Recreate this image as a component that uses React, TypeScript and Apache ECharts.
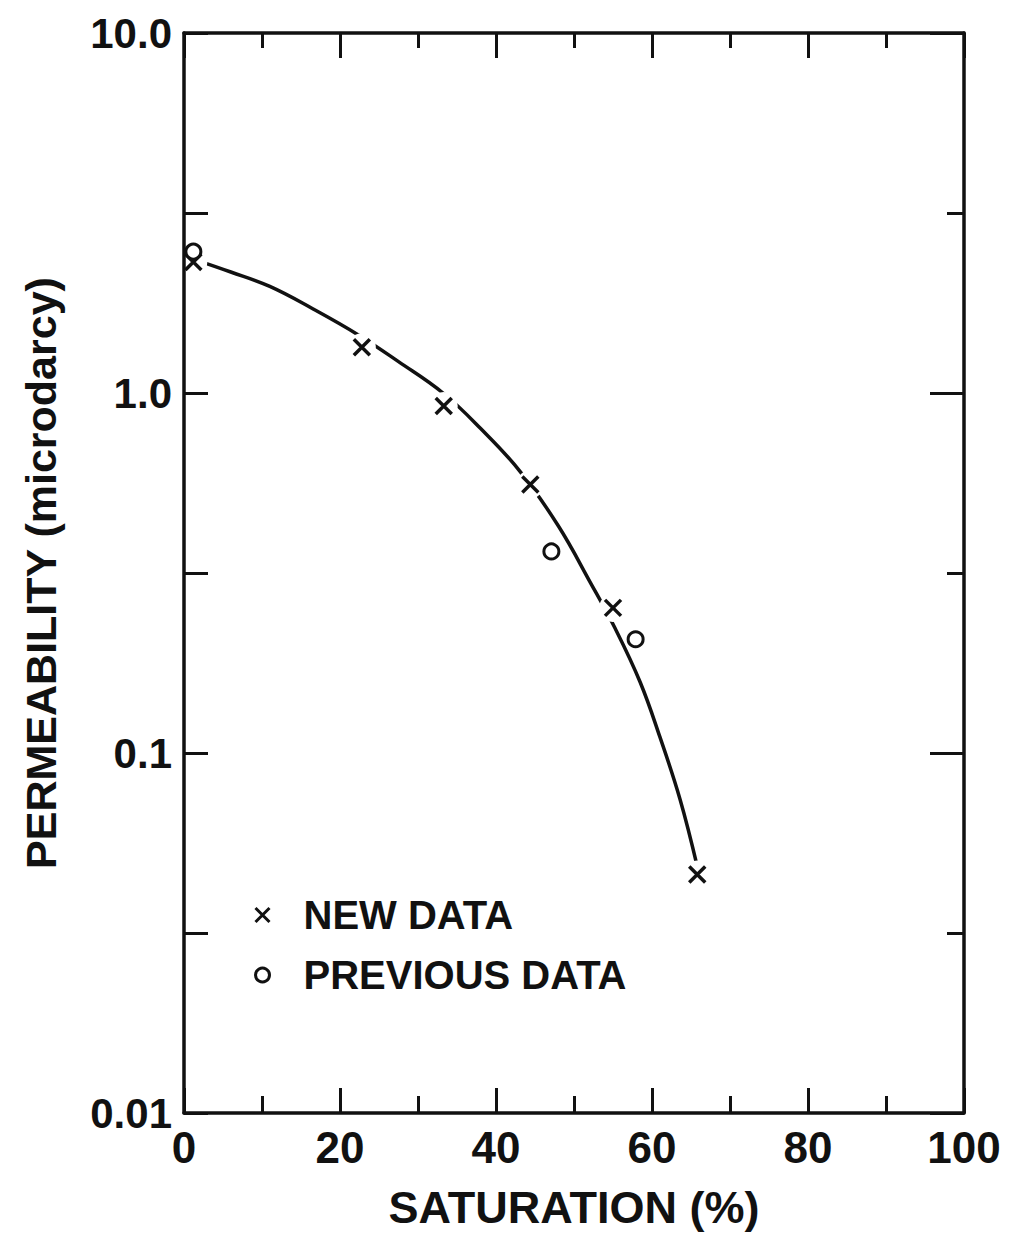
import React, { useEffect, useRef } from "react";
import * as echarts from "echarts";

// ---- data ----
const newDataX = [1.2, 22.8, 33.3, 44.4, 55.0, 65.8];
const newDataY = [2.31, 1.34, 0.92, 0.557, 0.253, 0.046];

const prevDataX = [1.2, 47.1, 57.9];
const prevDataY = [2.47, 0.363, 0.207];

const curveX = [1.2, 6.0, 11.0, 16.5, 22.3, 27.5, 33.2, 38.0, 43.1, 48.0, 52.1, 55.3, 58.5, 61.0, 63.6, 65.8];
const curveY = [2.355, 2.168, 1.977, 1.714, 1.452, 1.222, 1.0, 0.798, 0.605, 0.427, 0.2975, 0.2213, 0.157, 0.111, 0.0743, 0.0484];

const xTickLabels = ["0", "20", "40", "60", "80", "100"];
const yTickValues = [0.01, 0.1, 1, 10];
const yTickLabels = ["0.01", "0.1", "1.0", "10.0"];

const SERIES_NEW = "NEW DATA";
const SERIES_PREV = "PREVIOUS DATA";
const X_TITLE = "SATURATION (%)";
const Y_TITLE = "PERMEABILITY (microdarcy)";

const INK = "#111";
const FONT = "Liberation Sans";
const CROSS = "path://M0,0L10,10M10,0L0,10";

const pairs = (xs: number[], ys: number[]) => xs.map((x, i) => [x, ys[i]]);

export default function App() {
  const ref = useRef<HTMLDivElement>(null);

  useEffect(() => {
    document.body.style.margin = "0";
    if (!ref.current) return;
    const chart = echarts.init(ref.current, null, { renderer: "svg" });

    const axisLine = { show: true, onZero: false, lineStyle: { color: INK, width: 3.5 } };
    const tickLine = { color: INK, width: 3 };

    chart.setOption({
      animation: false,
      backgroundColor: "#fff",
      grid: { left: 184, right: 50, top: 33, bottom: 121, containLabel: false },
      legend: {
        orient: "vertical",
        left: 249,
        top: 890,
        itemWidth: 14,
        itemHeight: 14,
        itemGap: 20,
        selectedMode: false,
        itemStyle: { borderWidth: 3, borderColor: INK, opacity: 1 },
        data: [
          { name: SERIES_NEW, icon: CROSS },
          { name: SERIES_PREV, icon: "circle" },
        ],
        textStyle: {
          fontFamily: FONT,
          fontWeight: "bold",
          fontSize: 40,
          lineHeight: 40,
          color: INK,
          padding: [0, 0, 0, 29],
        },
      },
      xAxis: [
        {
          type: "value",
          position: "bottom",
          min: 0,
          max: 100,
          interval: 20,
          z: 10,
          axisLine,
          axisTick: { show: true, inside: true, length: 25, lineStyle: tickLine },
          minorTick: { show: true, splitNumber: 2, length: 17, lineStyle: tickLine },
          splitLine: { show: false },
          axisLabel: {
            margin: 12,
            fontFamily: FONT,
            fontWeight: "bold",
            fontSize: 44,
            color: INK,
            formatter: (v: number) => xTickLabels[Math.round(v / 20)] ?? "",
          },
          name: X_TITLE,
          nameLocation: "middle",
          nameGap: 72,
          nameTextStyle: { fontFamily: FONT, fontWeight: "bold", fontSize: 45, color: INK },
        },
        {
          type: "value",
          position: "top",
          min: 0,
          max: 100,
          interval: 20,
          z: 10,
          axisLine,
          axisTick: { show: true, inside: true, length: 25, lineStyle: tickLine },
          minorTick: { show: true, splitNumber: 2, length: 15, lineStyle: tickLine },
          splitLine: { show: false },
          axisLabel: { show: false },
        },
      ],
      yAxis: [
        {
          type: "log",
          logBase: 10,
          position: "left",
          min: 0.01,
          max: 10,
          z: 10,
          axisLine,
          axisTick: { show: true, inside: true, length: 24, lineStyle: tickLine },
          splitLine: { show: false },
          axisLabel: {
            margin: 12,
            fontFamily: FONT,
            fontWeight: "bold",
            fontSize: 42,
            color: INK,
            formatter: (v: number) => {
              const i = yTickValues.findIndex(
                (t) => Math.abs(Math.log10(t) - Math.log10(v)) < 1e-6
              );
              return i >= 0 ? yTickLabels[i] : "";
            },
          },
          name: Y_TITLE,
          nameLocation: "middle",
          nameGap: 122,
          nameTextStyle: { fontFamily: FONT, fontWeight: "bold", fontSize: 43, color: INK },
        },
        {
          // half-decade ticks on the left side (log10 space)
          type: "value",
          position: "left",
          min: -2,
          max: 1,
          interval: 1,
          z: 10,
          axisLine: { show: false, onZero: false },
          axisTick: { show: false, inside: true },
          minorTick: { show: true, splitNumber: 2, length: 24, lineStyle: tickLine },
          splitLine: { show: false },
          minorSplitLine: { show: false },
          axisLabel: { show: false },
        },
        {
          // right frame with decade and half-decade ticks (log10 space)
          type: "value",
          position: "right",
          min: -2,
          max: 1,
          interval: 1,
          z: 10,
          axisLine,
          axisTick: { show: true, inside: true, length: 34, lineStyle: tickLine },
          minorTick: { show: true, splitNumber: 2, length: 17, lineStyle: tickLine },
          splitLine: { show: false },
          minorSplitLine: { show: false },
          axisLabel: { show: false },
        },
      ],
      series: [
        {
          name: "fit",
          type: "line",
          data: pairs(curveX, curveY),
          smooth: 0.4,
          showSymbol: false,
          symbol: "none",
          silent: true,
          z: 2,
          lineStyle: { color: INK, width: 3.5 },
        },
        {
          name: "gaps",
          type: "scatter",
          data: pairs(newDataX, newDataY),
          symbol: "circle",
          symbolSize: 28,
          silent: true,
          z: 3,
          itemStyle: { color: "#fff", borderWidth: 0, opacity: 1 },
        },
        {
          name: SERIES_NEW,
          type: "scatter",
          data: pairs(newDataX, newDataY),
          symbol: CROSS,
          symbolSize: 16,
          z: 4,
          itemStyle: { color: "transparent", borderColor: INK, borderWidth: 3.5, opacity: 1 },
        },
        {
          name: SERIES_PREV,
          type: "scatter",
          data: pairs(prevDataX, prevDataY),
          symbol: "circle",
          symbolSize: 15,
          z: 4,
          itemStyle: { color: "#fff", borderColor: INK, borderWidth: 3, opacity: 1 },
        },
      ],
    });

    return () => chart.dispose();
  }, []);

  return <div ref={ref} style={{ width: 1014, height: 1235 }} />;
}
